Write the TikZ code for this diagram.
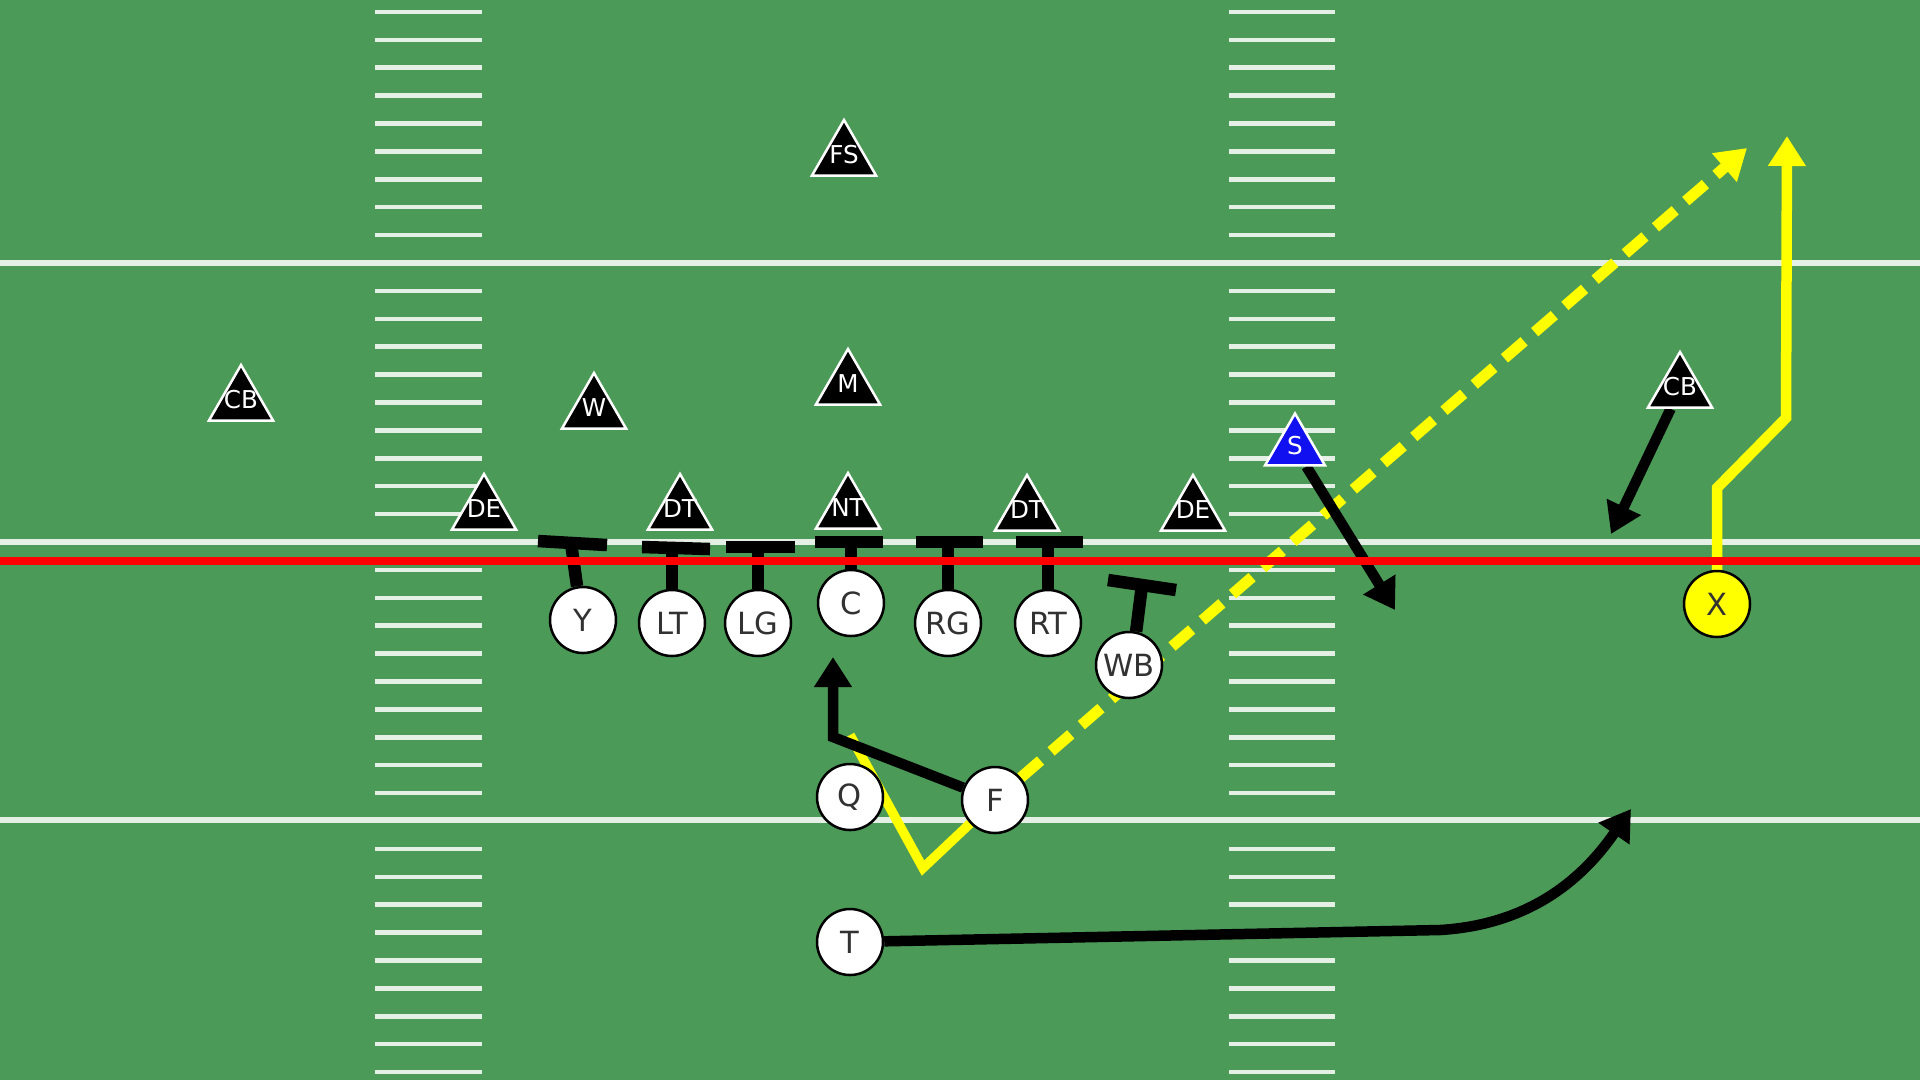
\documentclass[tikz,border=0pt]{standalone}
\usepackage{fontspec}
\setmainfont{DejaVu Sans}
\usetikzlibrary{shapes.geometric,arrows.meta}
\definecolor{grass}{RGB}{76,154,88}
\definecolor{ptext}{RGB}{50,50,50}
\definecolor{sblue}{RGB}{16,16,240}
\definecolor{ryel}{RGB}{255,255,0}
\pgfdeclarelayer{field}
\pgfdeclarelayer{routes}
\pgfsetlayers{field,routes,main}
\begin{document}
\begin{tikzpicture}[x=0.1mm,y=-0.1mm,
  offp/.style={circle,draw=black,line width=0.25mm,fill=white,minimum size=6.6mm,inner sep=0pt,text=ptext,font=\fontsize{8.7}{8.7}\selectfont},
  defp/.style={regular polygon,regular polygon sides=3,fill=black,draw=white,line width=0.25mm,minimum size=7.4mm,inner sep=0pt,text=white,text height=1.25mm,text depth=0pt,font=\fontsize{7}{7}\selectfont},
  route/.style={line width=1.05mm},
  rtip/.style={-{Triangle[length=3mm,width=3.6mm]}},
  blk/.style={line width=1.25mm},
  yard/.style={white,opacity=0.85,line width=0.65mm},
  hash/.style={white,opacity=0.85,line width=0.45mm}]
\useasboundingbox (0,0) rectangle (1920,1080);
% field
\begin{pgfonlayer}{field}
\fill[grass] (0,0) rectangle (1920,1080);
\foreach \yy in {263,542,820}{\draw[yard] (0,\yy) -- (1920,\yy);}
\foreach \k in {0,...,8,10,11,...,18,20,21,...,28,30,31,...,38}{
  \draw[hash] (375,11.9+27.9*\k) -- (482,11.9+27.9*\k);
  \draw[hash] (1229,11.9+27.9*\k) -- (1335,11.9+27.9*\k);
}
\end{pgfonlayer}
% offense
\node[offp] (Y) at (583,620) {Y};
\node[offp] (LT) at (672,623) {LT};
\node[offp] (LG) at (758,623) {LG};
\node[offp] (C) at (851,603) {C};
\node[offp] (RG) at (948,623) {RG};
\node[offp] (RT) at (1048,623) {RT};
\node[offp] (WB) at (1129,665) {WB};
\node[offp] (Q) at (850,797) {Q};
\node[offp] (F) at (995,800) {F};
\node[offp] (T) at (850,942) {T};
\node[offp,fill=ryel] (X) at (1717,604) {X};
% defense
\node[defp] (CBL) at (241,402) {\makebox[0pt]{CB}};
\node[defp] (W) at (594,410) {\makebox[0pt]{W}};
\node[defp] (FS) at (844,157) {\makebox[0pt]{FS}};
\node[defp] (M) at (848,386) {\makebox[0pt]{M}};
\node[defp] (DEL) at (484,511) {\makebox[0pt]{DE}};
\node[defp] (DTL) at (680,511) {\makebox[0pt]{DT}};
\node[defp] (NT) at (848,510) {\makebox[0pt]{NT}};
\node[defp] (DTR) at (1027,512) {\makebox[0pt]{DT}};
\node[defp] (DER) at (1193,512) {\makebox[0pt]{DE}};
\node[defp,fill=sblue,minimum size=6.9mm] (S) at (1295,448) {\makebox[0pt]{S}};
\node[defp] (CBR) at (1680,389) {\makebox[0pt]{CB}};
% route coordinates
\coordinate (yb1) at (538,541); \coordinate (yb2) at (607,545); \coordinate (ybm) at (571,543);
\coordinate (ltb1) at (642,547); \coordinate (ltb2) at (710,549); \coordinate (ltbm) at (672,548);
\coordinate (lgb1) at (726,547); \coordinate (lgb2) at (795,547); \coordinate (lgbm) at (758,547);
\coordinate (cb1) at (815,542); \coordinate (cb2) at (883,542); \coordinate (cbm) at (851,542);
\coordinate (rgb1) at (916,542); \coordinate (rgb2) at (983,542); \coordinate (rgbm) at (948,542);
\coordinate (rtb1) at (1016,542); \coordinate (rtb2) at (1083,542); \coordinate (rtbm) at (1048,542);
\coordinate (wbb1) at (1108,580); \coordinate (wbb2) at (1176,590); \coordinate (wbbm) at (1142,585);
\coordinate (fc) at (833,737); \coordinate (fa) at (833,657);
\coordinate (qa) at (850,735); \coordinate (qv) at (923,868);
\coordinate (dtip) at (1747,148);
\coordinate (stip) at (1395,610);
\coordinate (cbtip) at (1611,534);
\coordinate (xr1) at (1717,488); \coordinate (xr2) at (1786,418); \coordinate (xr3) at (1787,136);
\coordinate (tr1) at (1440,930); \coordinate (ttip) at (1631,809);
\begin{pgfonlayer}{routes}
% blocks
\draw[blk] (Y.100) -- (ybm); \draw[blk] (yb1) -- (yb2);
\draw[blk] (LT.north) -- (ltbm); \draw[blk] (ltb1) -- (ltb2);
\draw[blk] (LG.north) -- (lgbm); \draw[blk] (lgb1) -- (lgb2);
\draw[blk] (C.north) -- (cbm); \draw[blk] (cb1) -- (cb2);
\draw[blk] (RG.north) -- (rgbm); \draw[blk] (rgb1) -- (rgb2);
\draw[blk] (RT.north) -- (rtbm); \draw[blk] (rtb1) -- (rtb2);
\draw[blk] (WB.78) -- (wbbm); \draw[blk] (wbb1) -- (wbb2);
% routes
\draw[route,ryel,line width=0.95mm] (qa) -- (qv) -- (F);
\draw[route,rtip] (F) -- (fc) -- (fa);
\draw[route,ryel,rtip,line width=1.1mm,dash pattern=on 2.6mm off 1.4mm] (F) -- (dtip);
\draw[route,rtip] (S) -- (stip);
\draw[route,rtip] (CBR) -- (cbtip);
\draw[route,ryel,rtip] (X.north) -- (xr1) -- (xr2) -- (xr3);
\draw[route,rtip] (T) -- (tr1) .. controls (1540,924) and (1590,868) .. (ttip);
% line of scrimmage
\draw[red,line width=0.8mm] (0,561) -- (1920,561);
\end{pgfonlayer}
\end{tikzpicture}
\end{document}
